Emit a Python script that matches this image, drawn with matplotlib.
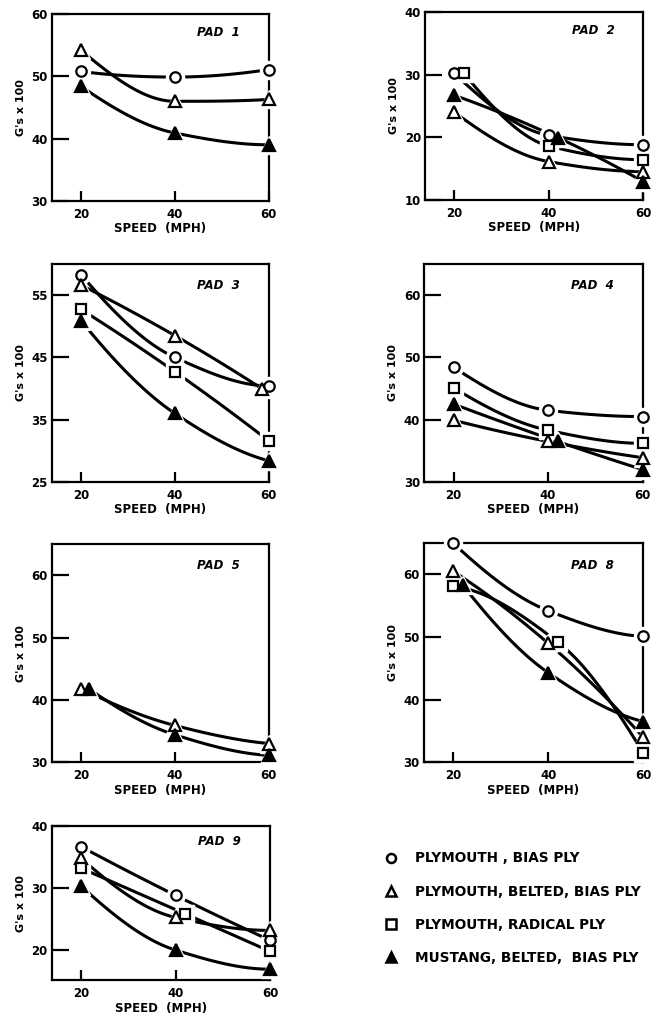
import numpy as np
import matplotlib.pyplot as plt
from matplotlib.lines import Line2D

plt.rcParams['font.family'] = ['DejaVu Sans']
plt.rcParams['font.weight'] = 'bold'

# series styles: circle, open triangle, square, filled triangle
series_names = ["PLYMOUTH , BIAS PLY",
                "PLYMOUTH, BELTED, BIAS PLY",
                "PLYMOUTH, RADICAL PLY",
                "MUSTANG, BELTED,  BIAS PLY"]
series_markers = ["o", "^", "s", "^"]
series_fill = ["white", "white", "white", "black"]

# values (G's x 100); x holds the speed where the marker sits
pad1 = {"o": ([20, 40, 60], [50.8, 49.9, 51.1]),
        "^": ([20, 40, 60], [54.2, 46.0, 46.3]),
        "A": ([20, 40, 60], [48.4, 40.9, 39.0])}
pad2 = {"o": ([20, 40, 60], [30.2, 20.3, 18.8]),
        "^": ([20, 40, 60], [24.0, 16.1, 14.5]),
        "s": ([22, 40, 60], [30.2, 18.6, 16.4]),
        "A": ([20, 42, 60], [26.7, 19.9, 12.9])}
pad3 = {"o": ([20, 40, 60], [58.3, 45.0, 40.4]),
        "^": ([20, 40, 58.5], [56.6, 48.5, 40.0]),
        "s": ([20, 40, 60], [52.7, 42.7, 31.6]),
        "A": ([20, 40, 60], [50.9, 36.0, 28.4])}
pad4 = {"o": ([20, 40, 60], [48.4, 41.5, 40.5]),
        "^": ([20, 40, 60], [39.9, 36.5, 33.9]),
        "s": ([20, 40, 60], [45.1, 38.3, 36.2]),
        "A": ([20, 42, 60], [42.5, 36.5, 32.0])}
pad5 = {"^": ([20, 40, 60], [41.8, 35.9, 33.0]),
        "A": ([21.6, 40, 60], [41.8, 34.4, 31.1])}
pad8 = {"o": ([20, 40, 60], [65.0, 54.2, 50.1]),
        "^": ([20, 40, 60], [60.5, 49.0, 34.0]),
        "s": ([20, 42, 60], [58.1, 49.2, 31.5]),
        "A": ([22, 40, 60], [58.3, 44.3, 36.5])}
pad9 = {"o": ([20, 40, 60], [36.7, 28.8, 21.5]),
        "^": ([20, 40, 60], [34.8, 25.2, 23.1]),
        "s": ([20, 42, 60], [33.2, 25.8, 19.7]),
        "A": ([20, 40, 60], [30.3, 19.9, 16.8])}

pads = [("PAD 1", pad1, (30, 60), [30, 40, 50, 60]),
        ("PAD 2", pad2, (10, 40), [10, 20, 30, 40]),
        ("PAD 3", pad3, (25, 60), [25, 35, 45, 55]),
        ("PAD 4", pad4, (30, 65), [30, 40, 50, 60]),
        ("PAD 5", pad5, (30, 65), [30, 40, 50, 60]),
        ("PAD 8", pad8, (30, 65), [30, 40, 50, 60]),
        ("PAD 9", pad9, (15, 40), [20, 30, 40])]

# axes rectangles in figure fraction
boxes = [[0.079, 0.803, 0.330, 0.183],
         [0.647, 0.804, 0.332, 0.184],
         [0.079, 0.527, 0.330, 0.214],
         [0.646, 0.527, 0.332, 0.214],
         [0.079, 0.252, 0.330, 0.214],
         [0.645, 0.252, 0.334, 0.215],
         [0.079, 0.038, 0.332, 0.151]]

keys = {"o": 0, "^": 1, "s": 2, "A": 3}


def pchip(xs, ys, xx):
    """Monotone cubic curve through the points (like a french curve)"""
    x = np.asarray(xs, float)
    y = np.asarray(ys, float)
    h = np.diff(x)
    d = np.diff(y) / h
    m = np.zeros_like(y)
    for k in range(1, len(x) - 1):
        if d[k - 1] * d[k] > 0:
            w1 = 2 * h[k] + h[k - 1]
            w2 = h[k] + 2 * h[k - 1]
            m[k] = (w1 + w2) / (w1 / d[k - 1] + w2 / d[k])
    m[0] = ((2 * h[0] + h[1]) * d[0] - h[0] * d[1]) / (h[0] + h[1])
    if m[0] * d[0] <= 0:
        m[0] = 0
    elif d[0] * d[1] < 0 and abs(m[0]) > abs(3 * d[0]):
        m[0] = 3 * d[0]
    m[-1] = ((2 * h[-1] + h[-2]) * d[-1] - h[-1] * d[-2]) / (h[-1] + h[-2])
    if m[-1] * d[-1] <= 0:
        m[-1] = 0
    elif d[-1] * d[-2] < 0 and abs(m[-1]) > abs(3 * d[-1]):
        m[-1] = 3 * d[-1]
    out = np.empty_like(xx)
    for j, xv in enumerate(xx):
        k = min(np.searchsorted(x, xv, side="right") - 1, len(x) - 2)
        k = max(k, 0)
        t = (xv - x[k]) / h[k]
        h00 = 2 * t**3 - 3 * t**2 + 1
        h10 = t**3 - 2 * t**2 + t
        h01 = -2 * t**3 + 3 * t**2
        h11 = t**3 - t**2
        out[j] = h00 * y[k] + h10 * h[k] * m[k] + h01 * y[k + 1] + h11 * h[k] * m[k + 1]
    return out


fig = plt.figure(figsize=(6.57, 10.19), dpi=100)

for (title, data, ylim, yticks), box in zip(pads, boxes):
    ax = fig.add_axes(box)
    for key, (xs, ys) in data.items():
        i = keys[key]
        xx = np.linspace(xs[0], xs[-1], 80)
        ax.plot(xx, pchip(xs, ys, xx), color="black", lw=2.2,
                solid_capstyle="butt", zorder=2, clip_on=False)
        ax.plot(xs, ys, ls="none", marker=series_markers[i], ms=13,
                mfc="white", mec="white", zorder=3, clip_on=False)
    for key, (xs, ys) in data.items():
        i = keys[key]
        ax.plot(xs, ys, ls="none", marker=series_markers[i],
                ms=8.5 if series_markers[i] == "^" else 7.5,
                mfc=series_fill[i], mec="black", mew=1.6, zorder=4,
                clip_on=False)
    ax.set_xlim(13.8, 60)
    ax.set_ylim(*ylim)
    ax.set_xticks([20, 40, 60])
    ax.set_yticks(yticks)
    ax.tick_params(axis="y", direction="in", length=12, width=1.6,
                   labelsize=8.5, pad=3)
    ax.tick_params(axis="x", direction="in", length=7, width=1.6,
                   labelsize=8.5, pad=5)
    for lab in ax.get_xticklabels() + ax.get_yticklabels():
        lab.set_fontweight("bold")
    for sp in ax.spines.values():
        sp.set_linewidth(1.6)
    ax.set_xlabel("SPEED  (MPH)", fontsize=8.5, fontweight="bold", labelpad=1)
    ax.set_ylabel("G's x 100", fontsize=8, fontweight="bold", labelpad=4)
    ax.text(0.77, 0.9, title.replace(" ", "  "), transform=ax.transAxes,
            ha="center", va="center", fontsize=8.5, fontweight="bold",
            fontstyle="italic")

handles = []
for i in range(4):
    handles.append(Line2D([], [], ls="none", marker=series_markers[i],
                          ms=7.5 if series_markers[i] == "^" else 6.5,
                          mfc=series_fill[i], mec="black", mew=1.8))
fig.legend(handles, series_names, loc="upper left",
           bbox_to_anchor=(0.576, 1 - 846 / 1019), frameon=False,
           handlelength=1.0, handletextpad=1.3, labelspacing=1.4,
           prop={"size": 9.8, "weight": "bold"}, borderaxespad=0)

fig.savefig("out.png", dpi=100)
